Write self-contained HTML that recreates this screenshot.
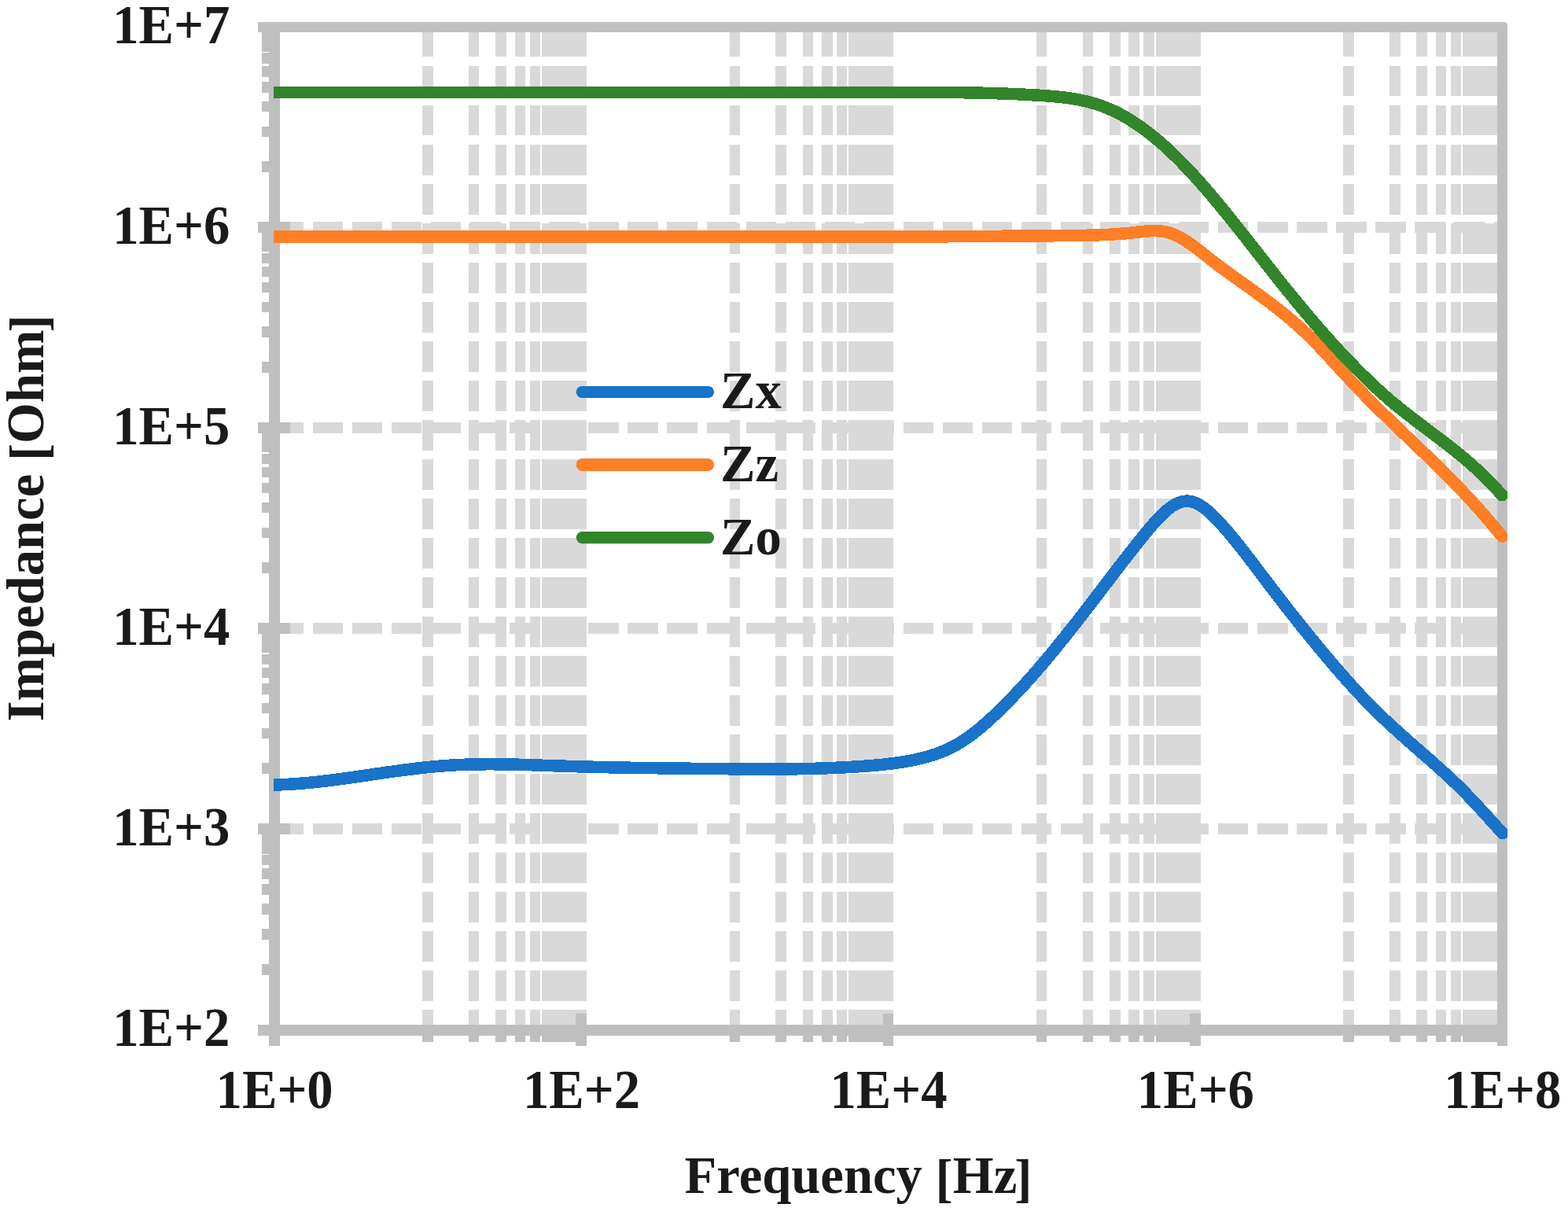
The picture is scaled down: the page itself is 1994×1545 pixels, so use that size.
<!DOCTYPE html>
<html lang="en"><head><meta charset="utf-8"><title>Impedance vs Frequency</title>
<style>html,body{margin:0;padding:0;background:#fff;}body{width:1994px;height:1545px;overflow:hidden;}svg{display:block;}text{font-family:"Liberation Serif","DejaVu Serif",serif;font-weight:bold;font-size:66.67px;fill:#1a1a1a;}</style>
</head><body>
<svg width="1994" height="1545" viewBox="0 0 1994 1545">
<rect x="0" y="0" width="1994" height="1545" fill="#ffffff"/>
<defs>
<clipPath id="vd"><path d="M300 34H1950V72H300ZM300 84H1950V122H300ZM300 134H1950V172H300ZM300 184H1950V223H300ZM300 234H1950V273H300ZM300 284H1950V323H300ZM300 334H1950V373H300ZM300 384H1950V423H300ZM300 434H1950V473H300ZM300 484H1950V523H300ZM300 534H1950V573H300ZM300 584H1950V623H300ZM300 634H1950V673H300ZM300 684H1950V723H300ZM300 734H1950V773H300ZM300 784H1950V823H300ZM300 834H1950V873H300ZM300 884H1950V923H300ZM300 934H1950V973H300ZM300 984H1950V1023H300ZM300 1034H1950V1073H300ZM300 1084H1950V1123H300ZM300 1134H1950V1173H300ZM300 1184H1950V1223H300ZM300 1234H1950V1273H300ZM300 1284H1950V1317H300Z"/></clipPath>
<clipPath id="hd"><path d="M348 0H386V1545H348ZM398 0H436V1545H398ZM448 0H486V1545H448ZM498 0H536V1545H498ZM548 0H586V1545H548ZM598 0H637V1545H598ZM648 0H687V1545H648ZM698 0H737V1545H698ZM748 0H787V1545H748ZM798 0H837V1545H798ZM848 0H887V1545H848ZM899 0H937V1545H899ZM949 0H987V1545H949ZM999 0H1037V1545H999ZM1049 0H1087V1545H1049ZM1099 0H1137V1545H1099ZM1149 0H1187V1545H1149ZM1199 0H1237V1545H1199ZM1249 0H1287V1545H1249ZM1299 0H1337V1545H1299ZM1349 0H1387V1545H1349ZM1399 0H1437V1545H1399ZM1449 0H1487V1545H1449ZM1499 0H1537V1545H1499ZM1549 0H1587V1545H1549ZM1599 0H1638V1545H1599ZM1649 0H1688V1545H1649ZM1699 0H1738V1545H1699ZM1749 0H1788V1545H1749ZM1799 0H1838V1545H1799ZM1849 0H1888V1545H1849ZM1900 0H1917V1545H1900Z"/></clipPath>
<clipPath id="pc"><rect x="348" y="20" width="1569" height="1300"/></clipPath>
</defs>
<path fill="#d9d9d9" shape-rendering="crispEdges" clip-path="url(#hd)" d="M342 1047H1917V1061H342ZM342 792H1917V806H342ZM342 537H1917V551H342ZM342 282H1917V296H342Z"/>
<path fill="#d9d9d9" shape-rendering="crispEdges" clip-path="url(#vd)" d="M537 28H551V1317H537ZM596 28H609V1317H596ZM630 28H644V1317H630ZM655 28H668V1317H655ZM674 28H687V1317H674ZM689 28H703V1317H689ZM702 28H716V1317H702ZM713 28H727V1317H713ZM723 28H737V1317H723ZM732 28H746V1317H732ZM928 28H941V1317H928ZM986 28H1000V1317H986ZM1021 28H1034V1317H1021ZM1045 28H1059V1317H1045ZM1064 28H1077V1317H1064ZM1079 28H1093V1317H1079ZM1092 28H1106V1317H1092ZM1104 28H1117V1317H1104ZM1114 28H1127V1317H1114ZM1123 28H1136V1317H1123ZM1318 28H1331V1317H1318ZM1377 28H1390V1317H1377ZM1411 28H1425V1317H1411ZM1435 28H1449V1317H1435ZM1454 28H1468V1317H1454ZM1470 28H1483V1317H1470ZM1483 28H1496V1317H1483ZM1494 28H1508V1317H1494ZM1504 28H1518V1317H1504ZM1513 28H1527V1317H1513ZM1708 28H1722V1317H1708ZM1767 28H1781V1317H1767ZM1801 28H1815V1317H1801ZM1826 28H1839V1317H1826ZM1845 28H1858V1317H1845ZM1860 28H1874V1317H1860ZM1873 28H1887V1317H1873ZM1885 28H1898V1317H1885ZM1895 28H1908V1317H1895Z"/>
<path fill="#bfbfbf" shape-rendering="crispEdges" d="M328 28H1917V41H328ZM342 28H356V1330H342ZM1904 28H1917V1330H1904ZM328 1303H1917V1317H328ZM328 1047H369V1061H328ZM328 792H369V806H328ZM328 537H369V551H328ZM328 282H369V296H328ZM333 1226H349V1240H333ZM333 1181H349V1195H333ZM333 1149H349V1163H333ZM333 1124H349V1138H333ZM333 1104H349V1118H333ZM333 1087H349V1100H333ZM333 1072H349V1086H333ZM333 1059H349V1072H333ZM333 970H349V984H333ZM333 926H349V939H333ZM333 894H349V907H333ZM333 869H349V883H333ZM333 849H349V862H333ZM333 832H349V845H333ZM333 817H349V830H333ZM333 804H349V817H333ZM333 715H349V729H333ZM333 671H349V684H333ZM333 639H349V652H333ZM333 614H349V627H333ZM333 594H349V607H333ZM333 577H349V590H333ZM333 562H349V575H333ZM333 549H349V562H333ZM333 460H349V474H333ZM333 415H349V429H333ZM333 384H349V397H333ZM333 359H349V372H333ZM333 339H349V352H333ZM333 322H349V335H333ZM333 307H349V320H333ZM333 294H349V307H333ZM333 205H349V219H333ZM333 161H349V174H333ZM333 129H349V142H333ZM333 104H349V118H333ZM333 84H349V98H333ZM333 67H349V81H333ZM333 52H349V66H333ZM333 39H349V53H333ZM732 1289H746V1330H732ZM1123 1289H1136V1330H1123ZM1513 1289H1527V1330H1513ZM537 1310H551V1325H537ZM596 1310H609V1325H596ZM630 1310H644V1325H630ZM655 1310H668V1325H655ZM674 1310H687V1325H674ZM689 1310H703V1325H689ZM702 1310H716V1325H702ZM713 1310H727V1325H713ZM723 1310H737V1325H723ZM928 1310H941V1325H928ZM986 1310H1000V1325H986ZM1021 1310H1034V1325H1021ZM1045 1310H1059V1325H1045ZM1064 1310H1077V1325H1064ZM1079 1310H1093V1325H1079ZM1092 1310H1106V1325H1092ZM1104 1310H1117V1325H1104ZM1114 1310H1127V1325H1114ZM1318 1310H1331V1325H1318ZM1377 1310H1390V1325H1377ZM1411 1310H1425V1325H1411ZM1435 1310H1449V1325H1435ZM1454 1310H1468V1325H1454ZM1470 1310H1483V1325H1470ZM1483 1310H1496V1325H1483ZM1494 1310H1508V1325H1494ZM1504 1310H1518V1325H1504ZM1708 1310H1722V1325H1708ZM1767 1310H1781V1325H1767ZM1801 1310H1815V1325H1801ZM1826 1310H1839V1325H1826ZM1845 1310H1858V1325H1845ZM1860 1310H1874V1325H1860ZM1873 1310H1887V1325H1873ZM1885 1310H1898V1325H1885ZM1895 1310H1908V1325H1895Z"/>
<path fill="#ffffff" d="M1913.8 27.5H1917.5V31.2Z"/>
<g fill="none" stroke-width="15.50" stroke-linejoin="round" stroke-linecap="round" clip-path="url(#pc)" shape-rendering="crispEdges">
<path stroke="#1873c9" d="M348.8 998.0 L350.8 997.9 L352.8 997.9 L354.8 997.8 L356.8 997.8 L358.8 997.7 L360.8 997.6 L362.8 997.5 L364.8 997.4 L366.8 997.3 L368.8 997.2 L370.8 997.0 L372.8 996.9 L374.8 996.8 L376.8 996.6 L378.8 996.5 L380.8 996.3 L382.8 996.2 L384.8 996.0 L386.8 995.8 L388.8 995.7 L390.8 995.5 L392.8 995.3 L394.8 995.1 L396.8 994.9 L398.8 994.7 L400.8 994.5 L402.8 994.3 L404.8 994.1 L406.8 993.8 L408.8 993.6 L410.8 993.4 L412.8 993.1 L414.8 992.9 L416.8 992.7 L418.8 992.4 L420.8 992.2 L422.8 991.9 L424.8 991.7 L426.8 991.4 L428.8 991.1 L430.8 990.9 L432.8 990.6 L434.8 990.3 L436.8 990.1 L438.8 989.8 L440.8 989.5 L442.8 989.2 L444.8 988.9 L446.8 988.7 L448.8 988.4 L450.8 988.1 L452.8 987.8 L454.8 987.5 L456.8 987.2 L458.8 986.9 L460.8 986.7 L462.8 986.4 L464.8 986.1 L466.8 985.8 L468.8 985.5 L470.8 985.2 L472.8 984.9 L474.8 984.6 L476.8 984.3 L478.8 984.0 L480.8 983.7 L482.8 983.5 L484.8 983.2 L486.8 982.9 L488.8 982.6 L490.8 982.3 L492.8 982.0 L494.8 981.7 L496.8 981.5 L498.8 981.2 L500.8 980.9 L502.8 980.6 L504.8 980.4 L506.8 980.1 L508.8 979.8 L510.8 979.5 L512.8 979.3 L514.8 979.0 L516.8 978.8 L518.8 978.5 L520.8 978.3 L522.8 978.0 L524.8 977.8 L526.8 977.5 L528.8 977.3 L530.8 977.0 L532.8 976.8 L534.8 976.6 L536.8 976.4 L538.8 976.1 L540.8 975.9 L542.8 975.7 L544.8 975.5 L546.8 975.3 L548.8 975.1 L550.8 974.9 L552.8 974.7 L554.8 974.6 L556.8 974.4 L558.8 974.2 L560.8 974.0 L562.8 973.9 L564.8 973.7 L566.8 973.6 L568.8 973.4 L570.8 973.3 L572.8 973.2 L574.8 973.1 L576.8 972.9 L578.8 972.8 L580.8 972.7 L582.8 972.6 L584.8 972.5 L586.8 972.5 L588.8 972.4 L590.8 972.3 L592.8 972.2 L594.8 972.2 L596.8 972.1 L598.8 972.0 L600.8 972.0 L602.8 971.9 L604.8 971.9 L606.8 971.9 L608.8 971.8 L610.8 971.8 L612.8 971.8 L614.8 971.8 L616.8 971.8 L618.8 971.7 L620.8 971.7 L622.8 971.7 L624.8 971.7 L626.8 971.7 L628.8 971.8 L630.8 971.8 L632.8 971.8 L634.8 971.8 L636.8 971.8 L638.8 971.8 L640.8 971.9 L642.8 971.9 L644.8 971.9 L646.8 972.0 L648.8 972.0 L650.8 972.1 L652.8 972.1 L654.8 972.1 L656.8 972.2 L658.8 972.2 L660.8 972.3 L662.8 972.4 L664.8 972.4 L666.8 972.5 L668.8 972.5 L670.8 972.6 L672.8 972.6 L674.8 972.7 L676.8 972.8 L678.8 972.8 L680.8 972.9 L682.8 973.0 L684.8 973.0 L686.8 973.1 L688.8 973.2 L690.8 973.3 L692.8 973.3 L694.8 973.4 L696.8 973.5 L698.8 973.5 L700.8 973.6 L702.8 973.7 L704.8 973.8 L706.8 973.8 L708.8 973.9 L710.8 974.0 L712.8 974.0 L714.8 974.1 L716.8 974.2 L718.8 974.2 L720.8 974.3 L722.8 974.4 L724.8 974.4 L726.8 974.5 L728.8 974.6 L730.8 974.6 L732.8 974.7 L734.8 974.8 L736.8 974.8 L738.8 974.9 L740.8 974.9 L742.8 975.0 L744.8 975.0 L746.8 975.1 L748.8 975.1 L750.8 975.2 L752.8 975.2 L754.8 975.3 L756.8 975.3 L758.8 975.4 L760.8 975.4 L762.8 975.5 L764.8 975.5 L766.8 975.6 L768.8 975.6 L770.8 975.7 L772.8 975.7 L774.8 975.8 L776.8 975.8 L778.8 975.8 L780.8 975.9 L782.8 975.9 L784.8 976.0 L786.8 976.0 L788.8 976.0 L790.8 976.1 L792.8 976.1 L794.8 976.1 L796.8 976.2 L798.8 976.2 L800.8 976.2 L802.8 976.3 L804.8 976.3 L806.8 976.3 L808.8 976.4 L810.8 976.4 L812.8 976.4 L814.8 976.5 L816.8 976.5 L818.8 976.5 L820.8 976.6 L822.8 976.6 L824.8 976.6 L826.8 976.6 L828.8 976.7 L830.8 976.7 L832.8 976.7 L834.8 976.7 L836.8 976.8 L838.8 976.8 L840.8 976.8 L842.8 976.8 L844.8 976.9 L846.8 976.9 L848.8 976.9 L850.8 976.9 L852.8 977.0 L854.8 977.0 L856.8 977.0 L858.8 977.0 L860.8 977.1 L862.8 977.1 L864.8 977.1 L866.8 977.1 L868.8 977.1 L870.8 977.2 L872.8 977.2 L874.8 977.2 L876.8 977.2 L878.8 977.3 L880.8 977.3 L882.8 977.3 L884.8 977.3 L886.8 977.3 L888.8 977.4 L890.8 977.4 L892.8 977.4 L894.8 977.4 L896.8 977.4 L898.8 977.5 L900.8 977.5 L902.8 977.5 L904.8 977.5 L906.8 977.6 L908.8 977.6 L910.8 977.6 L912.8 977.6 L914.8 977.6 L916.8 977.7 L918.8 977.7 L920.8 977.7 L922.8 977.7 L924.8 977.7 L926.8 977.8 L928.8 977.8 L930.8 977.8 L932.8 977.8 L934.8 977.8 L936.8 977.9 L938.8 977.9 L940.8 977.9 L942.8 977.9 L944.8 977.9 L946.8 977.9 L948.8 977.9 L950.8 978.0 L952.8 978.0 L954.8 978.0 L956.8 978.0 L958.8 978.0 L960.8 978.0 L962.8 978.0 L964.8 978.0 L966.8 978.0 L968.8 978.0 L970.8 978.0 L972.8 978.0 L974.8 978.0 L976.8 978.0 L978.8 978.0 L980.8 978.0 L982.8 978.0 L984.8 978.0 L986.8 978.0 L988.8 978.0 L990.8 978.0 L992.8 978.0 L994.8 978.0 L996.8 978.0 L998.8 977.9 L1000.8 977.9 L1002.8 977.9 L1004.8 977.9 L1006.8 977.9 L1008.8 977.8 L1010.8 977.8 L1012.8 977.8 L1014.8 977.7 L1016.8 977.7 L1018.8 977.7 L1020.8 977.6 L1022.8 977.6 L1024.8 977.6 L1026.8 977.5 L1028.8 977.5 L1030.8 977.4 L1032.8 977.4 L1034.8 977.3 L1036.8 977.3 L1038.8 977.2 L1040.8 977.2 L1042.8 977.1 L1044.8 977.0 L1046.8 977.0 L1048.8 976.9 L1050.8 976.8 L1052.8 976.7 L1054.8 976.7 L1056.8 976.6 L1058.8 976.5 L1060.8 976.4 L1062.8 976.3 L1064.8 976.2 L1066.8 976.2 L1068.8 976.1 L1070.8 976.0 L1072.8 975.9 L1074.8 975.7 L1076.8 975.6 L1078.8 975.5 L1080.8 975.4 L1082.8 975.3 L1084.8 975.2 L1086.8 975.1 L1088.8 974.9 L1090.8 974.8 L1092.8 974.7 L1094.8 974.5 L1096.8 974.4 L1098.8 974.2 L1100.8 974.1 L1102.8 973.9 L1104.8 973.8 L1106.8 973.6 L1108.8 973.5 L1110.8 973.3 L1112.8 973.1 L1114.8 972.9 L1116.8 972.8 L1118.8 972.6 L1120.8 972.4 L1122.8 972.2 L1124.8 972.0 L1126.8 971.7 L1128.8 971.5 L1130.8 971.3 L1132.8 971.0 L1134.8 970.8 L1136.8 970.5 L1138.8 970.3 L1140.8 970.0 L1142.8 969.7 L1144.8 969.4 L1146.8 969.1 L1148.8 968.8 L1150.8 968.4 L1152.8 968.1 L1154.8 967.7 L1156.8 967.4 L1158.8 967.0 L1160.8 966.6 L1162.8 966.2 L1164.8 965.8 L1166.8 965.3 L1168.8 964.9 L1170.8 964.4 L1172.8 963.9 L1174.8 963.4 L1176.8 962.9 L1178.8 962.3 L1180.8 961.8 L1182.8 961.2 L1184.8 960.6 L1186.8 959.9 L1188.8 959.3 L1190.8 958.6 L1192.8 957.8 L1194.8 957.1 L1196.8 956.3 L1198.8 955.5 L1200.8 954.7 L1202.8 953.8 L1204.8 952.9 L1206.8 952.0 L1208.8 951.0 L1210.8 950.0 L1212.8 949.0 L1214.8 947.9 L1216.8 946.8 L1218.8 945.6 L1220.8 944.4 L1222.8 943.2 L1224.8 941.9 L1226.8 940.6 L1228.8 939.2 L1230.8 937.8 L1232.8 936.4 L1234.8 934.9 L1236.8 933.4 L1238.8 931.9 L1240.8 930.3 L1242.8 928.7 L1244.8 927.1 L1246.8 925.4 L1248.8 923.8 L1250.8 922.0 L1252.8 920.3 L1254.8 918.5 L1256.8 916.7 L1258.8 914.9 L1260.8 913.1 L1262.8 911.2 L1264.8 909.3 L1266.8 907.4 L1268.8 905.5 L1270.8 903.5 L1272.8 901.6 L1274.8 899.6 L1276.8 897.6 L1278.8 895.6 L1280.8 893.6 L1282.8 891.5 L1284.8 889.5 L1286.8 887.4 L1288.8 885.3 L1290.8 883.2 L1292.8 881.1 L1294.8 879.0 L1296.8 876.9 L1298.8 874.7 L1300.8 872.5 L1302.8 870.4 L1304.8 868.2 L1306.8 866.0 L1308.8 863.7 L1310.8 861.5 L1312.8 859.3 L1314.8 857.0 L1316.8 854.7 L1318.8 852.4 L1320.8 850.1 L1322.8 847.8 L1324.8 845.5 L1326.8 843.1 L1328.8 840.7 L1330.8 838.4 L1332.8 836.0 L1334.8 833.6 L1336.8 831.2 L1338.8 828.8 L1340.8 826.3 L1342.8 823.9 L1344.8 821.5 L1346.8 819.0 L1348.8 816.5 L1350.8 814.0 L1352.8 811.6 L1354.8 809.1 L1356.8 806.5 L1358.8 804.0 L1360.8 801.5 L1362.8 799.0 L1364.8 796.4 L1366.8 793.9 L1368.8 791.3 L1370.8 788.8 L1372.8 786.2 L1374.8 783.6 L1376.8 781.1 L1378.8 778.5 L1380.8 775.9 L1382.8 773.3 L1384.8 770.7 L1386.8 768.1 L1388.8 765.5 L1390.8 762.9 L1392.8 760.3 L1394.8 757.6 L1396.8 755.0 L1398.8 752.4 L1400.8 749.8 L1402.8 747.1 L1404.8 744.5 L1406.8 741.9 L1408.8 739.3 L1410.8 736.6 L1412.8 734.0 L1414.8 731.4 L1416.8 728.8 L1418.8 726.2 L1420.8 723.6 L1422.8 721.0 L1424.8 718.4 L1426.8 715.8 L1428.8 713.2 L1430.8 710.6 L1432.8 708.1 L1434.8 705.5 L1436.8 703.0 L1438.8 700.4 L1440.8 697.9 L1442.8 695.4 L1444.8 692.9 L1446.8 690.4 L1448.8 687.9 L1450.8 685.4 L1452.8 682.9 L1454.8 680.5 L1456.8 678.0 L1458.8 675.6 L1460.8 673.2 L1462.8 670.8 L1464.8 668.4 L1466.8 666.1 L1468.8 663.9 L1470.8 661.6 L1472.8 659.5 L1474.8 657.4 L1476.8 655.4 L1478.8 653.4 L1480.8 651.6 L1482.8 649.8 L1484.8 648.1 L1486.8 646.5 L1488.8 645.0 L1490.8 643.6 L1492.8 642.4 L1494.8 641.2 L1496.8 640.2 L1498.8 639.3 L1500.8 638.6 L1502.8 638.0 L1504.8 637.5 L1506.8 637.3 L1508.8 637.1 L1510.8 637.2 L1512.8 637.4 L1514.8 637.7 L1516.8 638.2 L1518.8 638.9 L1520.8 639.7 L1522.8 640.6 L1524.8 641.7 L1526.8 642.9 L1528.8 644.2 L1530.8 645.6 L1532.8 647.1 L1534.8 648.7 L1536.8 650.4 L1538.8 652.2 L1540.8 654.1 L1542.8 656.0 L1544.8 658.0 L1546.8 660.0 L1548.8 662.1 L1550.8 664.3 L1552.8 666.5 L1554.8 668.7 L1556.8 671.0 L1558.8 673.2 L1560.8 675.6 L1562.8 677.9 L1564.8 680.3 L1566.8 682.7 L1568.8 685.1 L1570.8 687.5 L1572.8 690.0 L1574.8 692.5 L1576.8 695.0 L1578.8 697.5 L1580.8 700.1 L1582.8 702.6 L1584.8 705.2 L1586.8 707.8 L1588.8 710.4 L1590.8 713.0 L1592.8 715.6 L1594.8 718.3 L1596.8 720.9 L1598.8 723.5 L1600.8 726.2 L1602.8 728.8 L1604.8 731.5 L1606.8 734.1 L1608.8 736.8 L1610.8 739.4 L1612.8 742.0 L1614.8 744.7 L1616.8 747.3 L1618.8 749.9 L1620.8 752.5 L1622.8 755.1 L1624.8 757.7 L1626.8 760.3 L1628.8 762.9 L1630.8 765.5 L1632.8 768.1 L1634.8 770.7 L1636.8 773.2 L1638.8 775.8 L1640.8 778.3 L1642.8 780.9 L1644.8 783.4 L1646.8 785.9 L1648.8 788.4 L1650.8 791.0 L1652.8 793.5 L1654.8 796.0 L1656.8 798.5 L1658.8 800.9 L1660.8 803.4 L1662.8 805.9 L1664.8 808.4 L1666.8 810.8 L1668.8 813.3 L1670.8 815.7 L1672.8 818.1 L1674.8 820.6 L1676.8 823.0 L1678.8 825.4 L1680.8 827.8 L1682.8 830.2 L1684.8 832.6 L1686.8 835.0 L1688.8 837.3 L1690.8 839.7 L1692.8 842.1 L1694.8 844.4 L1696.8 846.8 L1698.8 849.1 L1700.8 851.4 L1702.8 853.7 L1704.8 856.0 L1706.8 858.3 L1708.8 860.6 L1710.8 862.8 L1712.8 865.1 L1714.8 867.3 L1716.8 869.6 L1718.8 871.8 L1720.8 874.0 L1722.8 876.2 L1724.8 878.4 L1726.8 880.5 L1728.8 882.7 L1730.8 884.8 L1732.8 886.9 L1734.8 889.0 L1736.8 891.1 L1738.8 893.2 L1740.8 895.2 L1742.8 897.2 L1744.8 899.3 L1746.8 901.2 L1748.8 903.2 L1750.8 905.2 L1752.8 907.2 L1754.8 909.1 L1756.8 911.0 L1758.8 912.9 L1760.8 914.8 L1762.8 916.7 L1764.8 918.6 L1766.8 920.4 L1768.8 922.3 L1770.8 924.1 L1772.8 926.0 L1774.8 927.8 L1776.8 929.6 L1778.8 931.4 L1780.8 933.2 L1782.8 935.0 L1784.8 936.8 L1786.8 938.6 L1788.8 940.3 L1790.8 942.1 L1792.8 943.9 L1794.8 945.6 L1796.8 947.4 L1798.8 949.1 L1800.8 950.9 L1802.8 952.6 L1804.8 954.4 L1806.8 956.1 L1808.8 957.9 L1810.8 959.6 L1812.8 961.3 L1814.8 963.1 L1816.8 964.8 L1818.8 966.6 L1820.8 968.4 L1822.8 970.1 L1824.8 971.9 L1826.8 973.7 L1828.8 975.5 L1830.8 977.3 L1832.8 979.1 L1834.8 980.9 L1836.8 982.7 L1838.8 984.5 L1840.8 986.4 L1842.8 988.2 L1844.8 990.1 L1846.8 992.0 L1848.8 993.9 L1850.8 995.8 L1852.8 997.7 L1854.8 999.7 L1856.8 1001.7 L1858.8 1003.6 L1860.8 1005.6 L1862.8 1007.7 L1864.8 1009.7 L1866.8 1011.8 L1868.8 1013.9 L1870.8 1016.0 L1872.8 1018.1 L1874.8 1020.2 L1876.8 1022.3 L1878.8 1024.5 L1880.8 1026.7 L1882.8 1028.8 L1884.8 1031.0 L1886.8 1033.2 L1888.8 1035.4 L1890.8 1037.6 L1892.8 1039.8 L1894.8 1042.0 L1896.8 1044.2 L1898.8 1046.4 L1900.8 1048.6 L1902.8 1050.8 L1904.8 1053.0 L1906.8 1055.2 L1908.8 1057.4 L1910.8 1059.5"/>
<path stroke="#ff7e26" d="M349.0 300.8 L351.0 300.8 L353.0 300.8 L355.0 300.8 L357.0 300.8 L359.0 300.8 L361.0 300.8 L363.0 300.8 L365.0 300.8 L367.0 300.8 L369.0 300.8 L371.0 300.8 L373.0 300.8 L375.0 300.8 L377.0 300.8 L379.0 300.8 L381.0 300.8 L383.0 300.8 L385.0 300.8 L387.0 300.8 L389.0 300.8 L391.0 300.8 L393.0 300.8 L395.0 300.8 L397.0 300.8 L399.0 300.8 L401.0 300.8 L403.0 300.8 L405.0 300.8 L407.0 300.8 L409.0 300.8 L411.0 300.8 L413.0 300.8 L415.0 300.8 L417.0 300.8 L419.0 300.8 L421.0 300.8 L423.0 300.8 L425.0 300.8 L427.0 300.8 L429.0 300.8 L431.0 300.8 L433.0 300.8 L435.0 300.8 L437.0 300.8 L439.0 300.8 L441.0 300.8 L443.0 300.8 L445.0 300.8 L447.0 300.8 L449.0 300.8 L451.0 300.8 L453.0 300.8 L455.0 300.8 L457.0 300.8 L459.0 300.8 L461.0 300.8 L463.0 300.8 L465.0 300.8 L467.0 300.8 L469.0 300.8 L471.0 300.8 L473.0 300.8 L475.0 300.8 L477.0 300.8 L479.0 300.8 L481.0 300.8 L483.0 300.8 L485.0 300.8 L487.0 300.8 L489.0 300.8 L491.0 300.8 L493.0 300.8 L495.0 300.8 L497.0 300.8 L499.0 300.8 L501.0 300.8 L503.0 300.8 L505.0 300.8 L507.0 300.8 L509.0 300.8 L511.0 300.8 L513.0 300.8 L515.0 300.8 L517.0 300.8 L519.0 300.8 L521.0 300.8 L523.0 300.8 L525.0 300.8 L527.0 300.8 L529.0 300.8 L531.0 300.8 L533.0 300.8 L535.0 300.8 L537.0 300.8 L539.0 300.8 L541.0 300.8 L543.0 300.8 L545.0 300.8 L547.0 300.8 L549.0 300.8 L551.0 300.8 L553.0 300.8 L555.0 300.8 L557.0 300.8 L559.0 300.8 L561.0 300.8 L563.0 300.8 L565.0 300.8 L567.0 300.8 L569.0 300.8 L571.0 300.8 L573.0 300.8 L575.0 300.8 L577.0 300.8 L579.0 300.8 L581.0 300.8 L583.0 300.8 L585.0 300.8 L587.0 300.8 L589.0 300.8 L591.0 300.8 L593.0 300.8 L595.0 300.8 L597.0 300.8 L599.0 300.8 L601.0 300.8 L603.0 300.8 L605.0 300.8 L607.0 300.8 L609.0 300.8 L611.0 300.8 L613.0 300.8 L615.0 300.8 L617.0 300.8 L619.0 300.8 L621.0 300.8 L623.0 300.8 L625.0 300.8 L627.0 300.8 L629.0 300.8 L631.0 300.8 L633.0 300.8 L635.0 300.8 L637.0 300.8 L639.0 300.8 L641.0 300.8 L643.0 300.8 L645.0 300.8 L647.0 300.8 L649.0 300.8 L651.0 300.8 L653.0 300.8 L655.0 300.8 L657.0 300.8 L659.0 300.8 L661.0 300.8 L663.0 300.8 L665.0 300.8 L667.0 300.8 L669.0 300.8 L671.0 300.8 L673.0 300.8 L675.0 300.8 L677.0 300.8 L679.0 300.8 L681.0 300.8 L683.0 300.8 L685.0 300.8 L687.0 300.8 L689.0 300.8 L691.0 300.8 L693.0 300.8 L695.0 300.8 L697.0 300.8 L699.0 300.8 L701.0 300.8 L703.0 300.8 L705.0 300.8 L707.0 300.8 L709.0 300.8 L711.0 300.8 L713.0 300.8 L715.0 300.8 L717.0 300.8 L719.0 300.8 L721.0 300.8 L723.0 300.8 L725.0 300.8 L727.0 300.8 L729.0 300.8 L731.0 300.8 L733.0 300.8 L735.0 300.8 L737.0 300.8 L739.0 300.8 L741.0 300.8 L743.0 300.8 L745.0 300.8 L747.0 300.8 L749.0 300.8 L751.0 300.8 L753.0 300.8 L755.0 300.8 L757.0 300.8 L759.0 300.8 L761.0 300.8 L763.0 300.8 L765.0 300.8 L767.0 300.8 L769.0 300.8 L771.0 300.8 L773.0 300.8 L775.0 300.8 L777.0 300.8 L779.0 300.8 L781.0 300.8 L783.0 300.8 L785.0 300.8 L787.0 300.8 L789.0 300.8 L791.0 300.8 L793.0 300.8 L795.0 300.8 L797.0 300.8 L799.0 300.8 L801.0 300.8 L803.0 300.8 L805.0 300.8 L807.0 300.8 L809.0 300.8 L811.0 300.8 L813.0 300.8 L815.0 300.8 L817.0 300.8 L819.0 300.8 L821.0 300.8 L823.0 300.8 L825.0 300.8 L827.0 300.8 L829.0 300.8 L831.0 300.8 L833.0 300.8 L835.0 300.8 L837.0 300.8 L839.0 300.8 L841.0 300.8 L843.0 300.8 L845.0 300.8 L847.0 300.8 L849.0 300.8 L851.0 300.8 L853.0 300.8 L855.0 300.8 L857.0 300.8 L859.0 300.8 L861.0 300.8 L863.0 300.8 L865.0 300.8 L867.0 300.8 L869.0 300.8 L871.0 300.8 L873.0 300.8 L875.0 300.8 L877.0 300.8 L879.0 300.8 L881.0 300.8 L883.0 300.8 L885.0 300.8 L887.0 300.8 L889.0 300.8 L891.0 300.8 L893.0 300.8 L895.0 300.8 L897.0 300.8 L899.0 300.8 L901.0 300.8 L903.0 300.8 L905.0 300.8 L907.0 300.8 L909.0 300.8 L911.0 300.8 L913.0 300.8 L915.0 300.8 L917.0 300.8 L919.0 300.8 L921.0 300.8 L923.0 300.8 L925.0 300.8 L927.0 300.8 L929.0 300.8 L931.0 300.8 L933.0 300.8 L935.0 300.8 L937.0 300.8 L939.0 300.8 L941.0 300.8 L943.0 300.8 L945.0 300.8 L947.0 300.8 L949.0 300.8 L951.0 300.8 L953.0 300.8 L955.0 300.8 L957.0 300.8 L959.0 300.8 L961.0 300.8 L963.0 300.8 L965.0 300.8 L967.0 300.8 L969.0 300.8 L971.0 300.8 L973.0 300.8 L975.0 300.8 L977.0 300.8 L979.0 300.8 L981.0 300.8 L983.0 300.8 L985.0 300.8 L987.0 300.8 L989.0 300.8 L991.0 300.8 L993.0 300.8 L995.0 300.8 L997.0 300.8 L999.0 300.8 L1001.0 300.8 L1003.0 300.8 L1005.0 300.8 L1007.0 300.8 L1009.0 300.8 L1011.0 300.8 L1013.0 300.8 L1015.0 300.8 L1017.0 300.8 L1019.0 300.8 L1021.0 300.8 L1023.0 300.8 L1025.0 300.8 L1027.0 300.8 L1029.0 300.8 L1031.0 300.8 L1033.0 300.8 L1035.0 300.8 L1037.0 300.8 L1039.0 300.8 L1041.0 300.8 L1043.0 300.8 L1045.0 300.8 L1047.0 300.8 L1049.0 300.8 L1051.0 300.8 L1053.0 300.8 L1055.0 300.8 L1057.0 300.8 L1059.0 300.8 L1061.0 300.8 L1063.0 300.8 L1065.0 300.8 L1067.0 300.8 L1069.0 300.8 L1071.0 300.8 L1073.0 300.8 L1075.0 300.8 L1077.0 300.8 L1079.0 300.8 L1081.0 300.8 L1083.0 300.8 L1085.0 300.8 L1087.0 300.8 L1089.0 300.8 L1091.0 300.8 L1093.0 300.8 L1095.0 300.8 L1097.0 300.8 L1099.0 300.8 L1101.0 300.8 L1103.0 300.8 L1105.0 300.8 L1107.0 300.8 L1109.0 300.8 L1111.0 300.8 L1113.0 300.8 L1115.0 300.8 L1117.0 300.8 L1119.0 300.8 L1121.0 300.8 L1123.0 300.8 L1125.0 300.8 L1127.0 300.8 L1129.0 300.8 L1131.0 300.8 L1133.0 300.8 L1135.0 300.8 L1137.0 300.8 L1139.0 300.8 L1141.0 300.8 L1143.0 300.8 L1145.0 300.8 L1147.0 300.8 L1149.0 300.8 L1151.0 300.8 L1153.0 300.8 L1155.0 300.8 L1157.0 300.8 L1159.0 300.8 L1161.0 300.8 L1163.0 300.8 L1165.0 300.8 L1167.0 300.8 L1169.0 300.8 L1171.0 300.8 L1173.0 300.8 L1175.0 300.8 L1177.0 300.8 L1179.0 300.8 L1181.0 300.8 L1183.0 300.8 L1185.0 300.8 L1187.0 300.8 L1189.0 300.8 L1191.0 300.8 L1193.0 300.8 L1195.0 300.8 L1197.0 300.8 L1199.0 300.8 L1201.0 300.8 L1203.0 300.8 L1205.0 300.8 L1207.0 300.7 L1209.0 300.7 L1211.0 300.7 L1213.0 300.7 L1215.0 300.7 L1217.0 300.7 L1219.0 300.7 L1221.0 300.7 L1223.0 300.7 L1225.0 300.6 L1227.0 300.6 L1229.0 300.6 L1231.0 300.6 L1233.0 300.6 L1235.0 300.6 L1237.0 300.5 L1239.0 300.5 L1241.0 300.5 L1243.0 300.5 L1245.0 300.5 L1247.0 300.4 L1249.0 300.4 L1251.0 300.4 L1253.0 300.4 L1255.0 300.4 L1257.0 300.4 L1259.0 300.3 L1261.0 300.3 L1263.0 300.3 L1265.0 300.3 L1267.0 300.3 L1269.0 300.3 L1271.0 300.3 L1273.0 300.3 L1275.0 300.2 L1277.0 300.2 L1279.0 300.2 L1281.0 300.2 L1283.0 300.2 L1285.0 300.2 L1287.0 300.2 L1289.0 300.1 L1291.0 300.1 L1293.0 300.1 L1295.0 300.1 L1297.0 300.1 L1299.0 300.1 L1301.0 300.1 L1303.0 300.0 L1305.0 300.0 L1307.0 300.0 L1309.0 300.0 L1311.0 300.0 L1313.0 300.0 L1315.0 300.0 L1317.0 299.9 L1319.0 299.9 L1321.0 299.9 L1323.0 299.9 L1325.0 299.9 L1327.0 299.9 L1329.0 299.8 L1331.0 299.8 L1333.0 299.8 L1335.0 299.8 L1337.0 299.8 L1339.0 299.8 L1341.0 299.7 L1343.0 299.7 L1345.0 299.7 L1347.0 299.7 L1349.0 299.7 L1351.0 299.7 L1353.0 299.6 L1355.0 299.6 L1357.0 299.6 L1359.0 299.6 L1361.0 299.6 L1363.0 299.5 L1365.0 299.5 L1367.0 299.5 L1369.0 299.5 L1371.0 299.4 L1373.0 299.4 L1375.0 299.4 L1377.0 299.3 L1379.0 299.3 L1381.0 299.3 L1383.0 299.2 L1385.0 299.2 L1387.0 299.1 L1389.0 299.1 L1391.0 299.0 L1393.0 298.9 L1395.0 298.9 L1397.0 298.8 L1399.0 298.7 L1401.0 298.7 L1403.0 298.6 L1405.0 298.5 L1407.0 298.4 L1409.0 298.3 L1411.0 298.2 L1413.0 298.1 L1415.0 297.9 L1417.0 297.8 L1419.0 297.7 L1421.0 297.6 L1423.0 297.4 L1425.0 297.3 L1427.0 297.1 L1429.0 296.9 L1431.0 296.8 L1433.0 296.6 L1435.0 296.4 L1437.0 296.2 L1439.0 296.0 L1441.0 295.8 L1443.0 295.6 L1445.0 295.3 L1447.0 295.1 L1449.0 294.9 L1451.0 294.7 L1453.0 294.5 L1455.0 294.3 L1457.0 294.1 L1459.0 293.9 L1461.0 293.8 L1463.0 293.7 L1465.0 293.6 L1467.0 293.6 L1469.0 293.6 L1471.0 293.7 L1473.0 293.8 L1475.0 293.9 L1477.0 294.1 L1479.0 294.4 L1481.0 294.7 L1483.0 295.1 L1485.0 295.6 L1487.0 296.1 L1489.0 296.7 L1491.0 297.4 L1493.0 298.2 L1495.0 299.1 L1497.0 300.0 L1499.0 301.0 L1501.0 302.0 L1503.0 303.2 L1505.0 304.3 L1507.0 305.6 L1509.0 306.8 L1511.0 308.2 L1513.0 309.5 L1515.0 311.0 L1517.0 312.4 L1519.0 313.9 L1521.0 315.4 L1523.0 316.9 L1525.0 318.4 L1527.0 320.0 L1529.0 321.6 L1531.0 323.2 L1533.0 324.7 L1535.0 326.3 L1537.0 327.9 L1539.0 329.5 L1541.0 331.0 L1543.0 332.6 L1545.0 334.1 L1547.0 335.7 L1549.0 337.2 L1551.0 338.7 L1553.0 340.2 L1555.0 341.7 L1557.0 343.1 L1559.0 344.6 L1561.0 346.1 L1563.0 347.5 L1565.0 349.0 L1567.0 350.4 L1569.0 351.9 L1571.0 353.3 L1573.0 354.7 L1575.0 356.1 L1577.0 357.6 L1579.0 359.0 L1581.0 360.4 L1583.0 361.9 L1585.0 363.3 L1587.0 364.7 L1589.0 366.1 L1591.0 367.6 L1593.0 369.0 L1595.0 370.4 L1597.0 371.9 L1599.0 373.3 L1601.0 374.8 L1603.0 376.2 L1605.0 377.7 L1607.0 379.2 L1609.0 380.6 L1611.0 382.1 L1613.0 383.6 L1615.0 385.1 L1617.0 386.6 L1619.0 388.2 L1621.0 389.7 L1623.0 391.3 L1625.0 392.8 L1627.0 394.4 L1629.0 396.0 L1631.0 397.6 L1633.0 399.2 L1635.0 400.9 L1637.0 402.5 L1639.0 404.2 L1641.0 405.9 L1643.0 407.6 L1645.0 409.3 L1647.0 411.1 L1649.0 412.8 L1651.0 414.6 L1653.0 416.4 L1655.0 418.3 L1657.0 420.1 L1659.0 422.0 L1661.0 423.9 L1663.0 425.9 L1665.0 427.8 L1667.0 429.8 L1669.0 431.8 L1671.0 433.8 L1673.0 435.9 L1675.0 437.9 L1677.0 440.0 L1679.0 442.1 L1681.0 444.2 L1683.0 446.4 L1685.0 448.5 L1687.0 450.7 L1689.0 452.8 L1691.0 455.0 L1693.0 457.2 L1695.0 459.3 L1697.0 461.5 L1699.0 463.7 L1701.0 465.9 L1703.0 468.1 L1705.0 470.2 L1707.0 472.4 L1709.0 474.6 L1711.0 476.7 L1713.0 478.9 L1715.0 481.0 L1717.0 483.2 L1719.0 485.3 L1721.0 487.4 L1723.0 489.5 L1725.0 491.6 L1727.0 493.7 L1729.0 495.8 L1731.0 497.9 L1733.0 499.9 L1735.0 502.0 L1737.0 504.1 L1739.0 506.1 L1741.0 508.1 L1743.0 510.1 L1745.0 512.2 L1747.0 514.2 L1749.0 516.2 L1751.0 518.1 L1753.0 520.1 L1755.0 522.1 L1757.0 524.1 L1759.0 526.0 L1761.0 528.0 L1763.0 529.9 L1765.0 531.9 L1767.0 533.8 L1769.0 535.8 L1771.0 537.7 L1773.0 539.6 L1775.0 541.5 L1777.0 543.5 L1779.0 545.4 L1781.0 547.3 L1783.0 549.2 L1785.0 551.1 L1787.0 553.0 L1789.0 555.0 L1791.0 556.9 L1793.0 558.8 L1795.0 560.7 L1797.0 562.6 L1799.0 564.5 L1801.0 566.4 L1803.0 568.3 L1805.0 570.2 L1807.0 572.2 L1809.0 574.1 L1811.0 576.0 L1813.0 577.9 L1815.0 579.9 L1817.0 581.8 L1819.0 583.7 L1821.0 585.7 L1823.0 587.6 L1825.0 589.6 L1827.0 591.5 L1829.0 593.5 L1831.0 595.5 L1833.0 597.4 L1835.0 599.4 L1837.0 601.4 L1839.0 603.4 L1841.0 605.4 L1843.0 607.4 L1845.0 609.5 L1847.0 611.5 L1849.0 613.5 L1851.0 615.6 L1853.0 617.6 L1855.0 619.7 L1857.0 621.8 L1859.0 623.9 L1861.0 626.0 L1863.0 628.1 L1865.0 630.2 L1867.0 632.4 L1869.0 634.5 L1871.0 636.7 L1873.0 638.9 L1875.0 641.1 L1877.0 643.3 L1879.0 645.5 L1881.0 647.7 L1883.0 650.0 L1885.0 652.3 L1887.0 654.6 L1889.0 656.9 L1891.0 659.2 L1893.0 661.5 L1895.0 663.9 L1897.0 666.2 L1899.0 668.6 L1901.0 671.0 L1903.0 673.5 L1905.0 675.9 L1907.0 678.4 L1909.0 680.8 L1910.1 682.2"/>
<path stroke="#32852a" d="M349.0 117.7 L351.0 117.7 L353.0 117.7 L355.0 117.7 L357.0 117.7 L359.0 117.7 L361.0 117.7 L363.0 117.7 L365.0 117.7 L367.0 117.7 L369.0 117.7 L371.0 117.7 L373.0 117.7 L375.0 117.7 L377.0 117.7 L379.0 117.7 L381.0 117.7 L383.0 117.7 L385.0 117.7 L387.0 117.7 L389.0 117.7 L391.0 117.7 L393.0 117.7 L395.0 117.7 L397.0 117.7 L399.0 117.7 L401.0 117.7 L403.0 117.7 L405.0 117.7 L407.0 117.7 L409.0 117.7 L411.0 117.7 L413.0 117.7 L415.0 117.7 L417.0 117.7 L419.0 117.7 L421.0 117.7 L423.0 117.7 L425.0 117.7 L427.0 117.7 L429.0 117.7 L431.0 117.7 L433.0 117.7 L435.0 117.7 L437.0 117.7 L439.0 117.7 L441.0 117.7 L443.0 117.7 L445.0 117.7 L447.0 117.7 L449.0 117.7 L451.0 117.7 L453.0 117.7 L455.0 117.7 L457.0 117.7 L459.0 117.7 L461.0 117.7 L463.0 117.7 L465.0 117.7 L467.0 117.7 L469.0 117.7 L471.0 117.7 L473.0 117.7 L475.0 117.7 L477.0 117.7 L479.0 117.7 L481.0 117.7 L483.0 117.7 L485.0 117.7 L487.0 117.7 L489.0 117.7 L491.0 117.7 L493.0 117.7 L495.0 117.7 L497.0 117.7 L499.0 117.7 L501.0 117.7 L503.0 117.7 L505.0 117.7 L507.0 117.7 L509.0 117.7 L511.0 117.7 L513.0 117.7 L515.0 117.7 L517.0 117.7 L519.0 117.7 L521.0 117.7 L523.0 117.7 L525.0 117.7 L527.0 117.7 L529.0 117.7 L531.0 117.7 L533.0 117.7 L535.0 117.7 L537.0 117.7 L539.0 117.7 L541.0 117.7 L543.0 117.7 L545.0 117.7 L547.0 117.7 L549.0 117.7 L551.0 117.7 L553.0 117.7 L555.0 117.7 L557.0 117.7 L559.0 117.7 L561.0 117.7 L563.0 117.7 L565.0 117.7 L567.0 117.7 L569.0 117.7 L571.0 117.7 L573.0 117.7 L575.0 117.7 L577.0 117.7 L579.0 117.7 L581.0 117.7 L583.0 117.7 L585.0 117.7 L587.0 117.7 L589.0 117.7 L591.0 117.7 L593.0 117.7 L595.0 117.7 L597.0 117.7 L599.0 117.7 L601.0 117.7 L603.0 117.7 L605.0 117.7 L607.0 117.7 L609.0 117.7 L611.0 117.7 L613.0 117.7 L615.0 117.7 L617.0 117.7 L619.0 117.7 L621.0 117.7 L623.0 117.7 L625.0 117.7 L627.0 117.7 L629.0 117.7 L631.0 117.7 L633.0 117.7 L635.0 117.7 L637.0 117.7 L639.0 117.7 L641.0 117.7 L643.0 117.7 L645.0 117.7 L647.0 117.7 L649.0 117.7 L651.0 117.7 L653.0 117.7 L655.0 117.7 L657.0 117.7 L659.0 117.7 L661.0 117.7 L663.0 117.7 L665.0 117.7 L667.0 117.7 L669.0 117.7 L671.0 117.7 L673.0 117.7 L675.0 117.7 L677.0 117.7 L679.0 117.7 L681.0 117.7 L683.0 117.7 L685.0 117.7 L687.0 117.7 L689.0 117.7 L691.0 117.7 L693.0 117.7 L695.0 117.7 L697.0 117.7 L699.0 117.7 L701.0 117.7 L703.0 117.7 L705.0 117.7 L707.0 117.7 L709.0 117.7 L711.0 117.7 L713.0 117.7 L715.0 117.7 L717.0 117.7 L719.0 117.7 L721.0 117.7 L723.0 117.7 L725.0 117.7 L727.0 117.7 L729.0 117.7 L731.0 117.7 L733.0 117.7 L735.0 117.7 L737.0 117.7 L739.0 117.7 L741.0 117.7 L743.0 117.7 L745.0 117.7 L747.0 117.7 L749.0 117.7 L751.0 117.7 L753.0 117.7 L755.0 117.7 L757.0 117.7 L759.0 117.7 L761.0 117.7 L763.0 117.7 L765.0 117.7 L767.0 117.7 L769.0 117.7 L771.0 117.7 L773.0 117.7 L775.0 117.7 L777.0 117.7 L779.0 117.7 L781.0 117.7 L783.0 117.7 L785.0 117.7 L787.0 117.7 L789.0 117.7 L791.0 117.7 L793.0 117.7 L795.0 117.7 L797.0 117.7 L799.0 117.7 L801.0 117.7 L803.0 117.7 L805.0 117.7 L807.0 117.7 L809.0 117.7 L811.0 117.7 L813.0 117.7 L815.0 117.7 L817.0 117.7 L819.0 117.7 L821.0 117.7 L823.0 117.7 L825.0 117.7 L827.0 117.7 L829.0 117.7 L831.0 117.7 L833.0 117.7 L835.0 117.7 L837.0 117.7 L839.0 117.7 L841.0 117.7 L843.0 117.7 L845.0 117.7 L847.0 117.7 L849.0 117.7 L851.0 117.7 L853.0 117.7 L855.0 117.7 L857.0 117.7 L859.0 117.7 L861.0 117.7 L863.0 117.7 L865.0 117.7 L867.0 117.7 L869.0 117.7 L871.0 117.7 L873.0 117.7 L875.0 117.7 L877.0 117.7 L879.0 117.7 L881.0 117.7 L883.0 117.7 L885.0 117.7 L887.0 117.7 L889.0 117.7 L891.0 117.7 L893.0 117.7 L895.0 117.7 L897.0 117.7 L899.0 117.7 L901.0 117.7 L903.0 117.7 L905.0 117.7 L907.0 117.7 L909.0 117.7 L911.0 117.7 L913.0 117.7 L915.0 117.7 L917.0 117.7 L919.0 117.7 L921.0 117.7 L923.0 117.7 L925.0 117.7 L927.0 117.7 L929.0 117.7 L931.0 117.7 L933.0 117.7 L935.0 117.7 L937.0 117.7 L939.0 117.7 L941.0 117.7 L943.0 117.7 L945.0 117.7 L947.0 117.7 L949.0 117.7 L951.0 117.7 L953.0 117.7 L955.0 117.7 L957.0 117.7 L959.0 117.7 L961.0 117.7 L963.0 117.7 L965.0 117.7 L967.0 117.7 L969.0 117.7 L971.0 117.7 L973.0 117.7 L975.0 117.7 L977.0 117.7 L979.0 117.7 L981.0 117.7 L983.0 117.7 L985.0 117.7 L987.0 117.7 L989.0 117.7 L991.0 117.7 L993.0 117.7 L995.0 117.7 L997.0 117.7 L999.0 117.7 L1001.0 117.7 L1003.0 117.7 L1005.0 117.7 L1007.0 117.7 L1009.0 117.7 L1011.0 117.7 L1013.0 117.7 L1015.0 117.7 L1017.0 117.7 L1019.0 117.7 L1021.0 117.7 L1023.0 117.7 L1025.0 117.7 L1027.0 117.7 L1029.0 117.7 L1031.0 117.7 L1033.0 117.7 L1035.0 117.7 L1037.0 117.7 L1039.0 117.7 L1041.0 117.7 L1043.0 117.7 L1045.0 117.7 L1047.0 117.7 L1049.0 117.7 L1051.0 117.7 L1053.0 117.7 L1055.0 117.7 L1057.0 117.7 L1059.0 117.7 L1061.0 117.7 L1063.0 117.7 L1065.0 117.7 L1067.0 117.7 L1069.0 117.7 L1071.0 117.7 L1073.0 117.7 L1075.0 117.7 L1077.0 117.7 L1079.0 117.7 L1081.0 117.7 L1083.0 117.7 L1085.0 117.7 L1087.0 117.7 L1089.0 117.7 L1091.0 117.7 L1093.0 117.7 L1095.0 117.7 L1097.0 117.7 L1099.0 117.7 L1101.0 117.7 L1103.0 117.7 L1105.0 117.7 L1107.0 117.7 L1109.0 117.7 L1111.0 117.7 L1113.0 117.7 L1115.0 117.7 L1117.0 117.7 L1119.0 117.7 L1121.0 117.7 L1123.0 117.7 L1125.0 117.7 L1127.0 117.7 L1129.0 117.7 L1131.0 117.6 L1133.0 117.6 L1135.0 117.6 L1137.0 117.6 L1139.0 117.6 L1141.0 117.6 L1143.0 117.6 L1145.0 117.6 L1147.0 117.5 L1149.0 117.5 L1151.0 117.5 L1153.0 117.5 L1155.0 117.5 L1157.0 117.5 L1159.0 117.5 L1161.0 117.4 L1163.0 117.4 L1165.0 117.4 L1167.0 117.4 L1169.0 117.4 L1171.0 117.4 L1173.0 117.4 L1175.0 117.4 L1177.0 117.4 L1179.0 117.3 L1181.0 117.3 L1183.0 117.4 L1185.0 117.4 L1187.0 117.4 L1189.0 117.4 L1191.0 117.4 L1193.0 117.4 L1195.0 117.4 L1197.0 117.4 L1199.0 117.4 L1201.0 117.5 L1203.0 117.5 L1205.0 117.5 L1207.0 117.5 L1209.0 117.5 L1211.0 117.5 L1213.0 117.6 L1215.0 117.6 L1217.0 117.6 L1219.0 117.6 L1221.0 117.7 L1223.0 117.7 L1225.0 117.7 L1227.0 117.8 L1229.0 117.8 L1231.0 117.8 L1233.0 117.9 L1235.0 117.9 L1237.0 117.9 L1239.0 118.0 L1241.0 118.0 L1243.0 118.1 L1245.0 118.1 L1247.0 118.2 L1249.0 118.2 L1251.0 118.3 L1253.0 118.3 L1255.0 118.4 L1257.0 118.4 L1259.0 118.5 L1261.0 118.5 L1263.0 118.6 L1265.0 118.7 L1267.0 118.7 L1269.0 118.8 L1271.0 118.9 L1273.0 118.9 L1275.0 119.0 L1277.0 119.1 L1279.0 119.1 L1281.0 119.2 L1283.0 119.3 L1285.0 119.4 L1287.0 119.5 L1289.0 119.6 L1291.0 119.6 L1293.0 119.7 L1295.0 119.8 L1297.0 119.9 L1299.0 120.0 L1301.0 120.1 L1303.0 120.2 L1305.0 120.3 L1307.0 120.4 L1309.0 120.5 L1311.0 120.6 L1313.0 120.8 L1315.0 120.9 L1317.0 121.0 L1319.0 121.1 L1321.0 121.2 L1323.0 121.3 L1325.0 121.5 L1327.0 121.6 L1329.0 121.7 L1331.0 121.9 L1333.0 122.0 L1335.0 122.2 L1337.0 122.3 L1339.0 122.5 L1341.0 122.7 L1343.0 122.9 L1345.0 123.1 L1347.0 123.3 L1349.0 123.5 L1351.0 123.7 L1353.0 123.9 L1355.0 124.2 L1357.0 124.5 L1359.0 124.7 L1361.0 125.0 L1363.0 125.3 L1365.0 125.6 L1367.0 126.0 L1369.0 126.3 L1371.0 126.7 L1373.0 127.1 L1375.0 127.5 L1377.0 127.9 L1379.0 128.4 L1381.0 128.8 L1383.0 129.3 L1385.0 129.8 L1387.0 130.4 L1389.0 130.9 L1391.0 131.5 L1393.0 132.1 L1395.0 132.7 L1397.0 133.4 L1399.0 134.1 L1401.0 134.8 L1403.0 135.5 L1405.0 136.3 L1407.0 137.0 L1409.0 137.9 L1411.0 138.7 L1413.0 139.6 L1415.0 140.5 L1417.0 141.4 L1419.0 142.4 L1421.0 143.4 L1423.0 144.4 L1425.0 145.5 L1427.0 146.5 L1429.0 147.6 L1431.0 148.8 L1433.0 149.9 L1435.0 151.1 L1437.0 152.4 L1439.0 153.6 L1441.0 154.9 L1443.0 156.2 L1445.0 157.5 L1447.0 158.9 L1449.0 160.3 L1451.0 161.7 L1453.0 163.1 L1455.0 164.6 L1457.0 166.1 L1459.0 167.6 L1461.0 169.1 L1463.0 170.7 L1465.0 172.3 L1467.0 173.9 L1469.0 175.5 L1471.0 177.2 L1473.0 178.9 L1475.0 180.6 L1477.0 182.3 L1479.0 184.1 L1481.0 185.9 L1483.0 187.7 L1485.0 189.5 L1487.0 191.4 L1489.0 193.3 L1491.0 195.2 L1493.0 197.1 L1495.0 199.0 L1497.0 201.0 L1499.0 203.0 L1501.0 205.0 L1503.0 207.0 L1505.0 209.1 L1507.0 211.1 L1509.0 213.2 L1511.0 215.4 L1513.0 217.5 L1515.0 219.6 L1517.0 221.8 L1519.0 224.0 L1521.0 226.2 L1523.0 228.4 L1525.0 230.7 L1527.0 232.9 L1529.0 235.2 L1531.0 237.5 L1533.0 239.8 L1535.0 242.1 L1537.0 244.4 L1539.0 246.8 L1541.0 249.1 L1543.0 251.5 L1545.0 253.9 L1547.0 256.3 L1549.0 258.7 L1551.0 261.1 L1553.0 263.5 L1555.0 266.0 L1557.0 268.4 L1559.0 270.9 L1561.0 273.3 L1563.0 275.8 L1565.0 278.3 L1567.0 280.8 L1569.0 283.3 L1571.0 285.8 L1573.0 288.3 L1575.0 290.8 L1577.0 293.3 L1579.0 295.9 L1581.0 298.4 L1583.0 300.9 L1585.0 303.5 L1587.0 306.0 L1589.0 308.5 L1591.0 311.1 L1593.0 313.6 L1595.0 316.2 L1597.0 318.7 L1599.0 321.3 L1601.0 323.8 L1603.0 326.4 L1605.0 328.9 L1607.0 331.5 L1609.0 334.0 L1611.0 336.6 L1613.0 339.1 L1615.0 341.7 L1617.0 344.2 L1619.0 346.7 L1621.0 349.3 L1623.0 351.8 L1625.0 354.3 L1627.0 356.8 L1629.0 359.3 L1631.0 361.8 L1633.0 364.3 L1635.0 366.8 L1637.0 369.3 L1639.0 371.7 L1641.0 374.2 L1643.0 376.7 L1645.0 379.1 L1647.0 381.5 L1649.0 384.0 L1651.0 386.4 L1653.0 388.8 L1655.0 391.2 L1657.0 393.6 L1659.0 396.0 L1661.0 398.4 L1663.0 400.7 L1665.0 403.1 L1667.0 405.5 L1669.0 407.8 L1671.0 410.1 L1673.0 412.5 L1675.0 414.8 L1677.0 417.1 L1679.0 419.4 L1681.0 421.6 L1683.0 423.9 L1685.0 426.2 L1687.0 428.4 L1689.0 430.7 L1691.0 432.9 L1693.0 435.1 L1695.0 437.3 L1697.0 439.5 L1699.0 441.7 L1701.0 443.9 L1703.0 446.0 L1705.0 448.2 L1707.0 450.3 L1709.0 452.4 L1711.0 454.6 L1713.0 456.7 L1715.0 458.8 L1717.0 460.8 L1719.0 462.9 L1721.0 464.9 L1723.0 467.0 L1725.0 469.0 L1727.0 471.0 L1729.0 473.0 L1731.0 475.0 L1733.0 477.0 L1735.0 478.9 L1737.0 480.9 L1739.0 482.8 L1741.0 484.7 L1743.0 486.6 L1745.0 488.5 L1747.0 490.4 L1749.0 492.2 L1751.0 494.1 L1753.0 495.9 L1755.0 497.7 L1757.0 499.5 L1759.0 501.3 L1761.0 503.1 L1763.0 504.8 L1765.0 506.6 L1767.0 508.3 L1769.0 510.0 L1771.0 511.7 L1773.0 513.3 L1775.0 515.0 L1777.0 516.6 L1779.0 518.3 L1781.0 519.9 L1783.0 521.5 L1785.0 523.1 L1787.0 524.7 L1789.0 526.2 L1791.0 527.8 L1793.0 529.4 L1795.0 530.9 L1797.0 532.4 L1799.0 534.0 L1801.0 535.5 L1803.0 537.0 L1805.0 538.5 L1807.0 540.0 L1809.0 541.6 L1811.0 543.1 L1813.0 544.6 L1815.0 546.1 L1817.0 547.6 L1819.0 549.1 L1821.0 550.6 L1823.0 552.1 L1825.0 553.6 L1827.0 555.1 L1829.0 556.6 L1831.0 558.1 L1833.0 559.7 L1835.0 561.2 L1837.0 562.7 L1839.0 564.3 L1841.0 565.8 L1843.0 567.4 L1845.0 569.0 L1847.0 570.5 L1849.0 572.1 L1851.0 573.7 L1853.0 575.3 L1855.0 577.0 L1857.0 578.6 L1859.0 580.3 L1861.0 581.9 L1863.0 583.6 L1865.0 585.3 L1867.0 587.1 L1869.0 588.8 L1871.0 590.6 L1873.0 592.3 L1875.0 594.1 L1877.0 595.9 L1879.0 597.8 L1881.0 599.7 L1883.0 601.5 L1885.0 603.4 L1887.0 605.4 L1889.0 607.3 L1891.0 609.3 L1893.0 611.3 L1895.0 613.4 L1897.0 615.4 L1899.0 617.5 L1901.0 619.6 L1903.0 621.8 L1905.0 624.0 L1907.0 626.2 L1909.0 628.4 L1910.1 629.7"/>
</g>
<g fill="none" stroke-linecap="round">
<line stroke="#1873c9" stroke-width="15.0" x1="740.2" y1="498.40" x2="900.6" y2="498.40"/>
<line stroke="#ff7e26" stroke-width="16.0" x1="740.7" y1="591.00" x2="900.1" y2="591.00"/>
<line stroke="#32852a" stroke-width="15.3" x1="740.4" y1="683.60" x2="900.5" y2="683.60"/>
</g>
<text transform="translate(916.00 518.90) scale(1 1.000)">Zx</text>
<text transform="translate(916.00 612.00) scale(1 1.000)">Zz</text>
<text transform="translate(916.00 705.00) scale(1 1.000)">Zo</text>
<text transform="translate(292.30 1329.90) scale(1 1.035)" text-anchor="end">1E+2</text>
<text transform="translate(292.30 1074.90) scale(1 1.035)" text-anchor="end">1E+3</text>
<text transform="translate(292.30 819.90) scale(1 1.035)" text-anchor="end">1E+4</text>
<text transform="translate(292.30 564.90) scale(1 1.035)" text-anchor="end">1E+5</text>
<text transform="translate(292.30 309.90) scale(1 1.035)" text-anchor="end">1E+6</text>
<text transform="translate(292.30 54.90) scale(1 1.035)" text-anchor="end">1E+7</text>
<text transform="translate(349.14 1408.90) scale(1 1.035)" text-anchor="middle">1E+0</text>
<text transform="translate(739.56 1408.90) scale(1 1.035)" text-anchor="middle">1E+2</text>
<text transform="translate(1129.98 1408.90) scale(1 1.035)" text-anchor="middle">1E+4</text>
<text transform="translate(1520.40 1408.90) scale(1 1.035)" text-anchor="middle">1E+6</text>
<text transform="translate(1910.82 1408.90) scale(1 1.035)" text-anchor="middle">1E+8</text>
<text transform="translate(1091.50 1517.40) scale(1 1.000)" text-anchor="middle">Frequency <tspan dy="3.6">[</tspan><tspan dy="-3.6">Hz</tspan><tspan dy="3.6" dx="-3">]</tspan></text>
<text transform="translate(55.00 658.90) rotate(-90) scale(1 1.000)" text-anchor="middle">Impedance <tspan dy="3.6">[</tspan><tspan dy="-3.6">Ohm</tspan><tspan dy="3.6" dx="-3">]</tspan></text>
</svg></body></html>
